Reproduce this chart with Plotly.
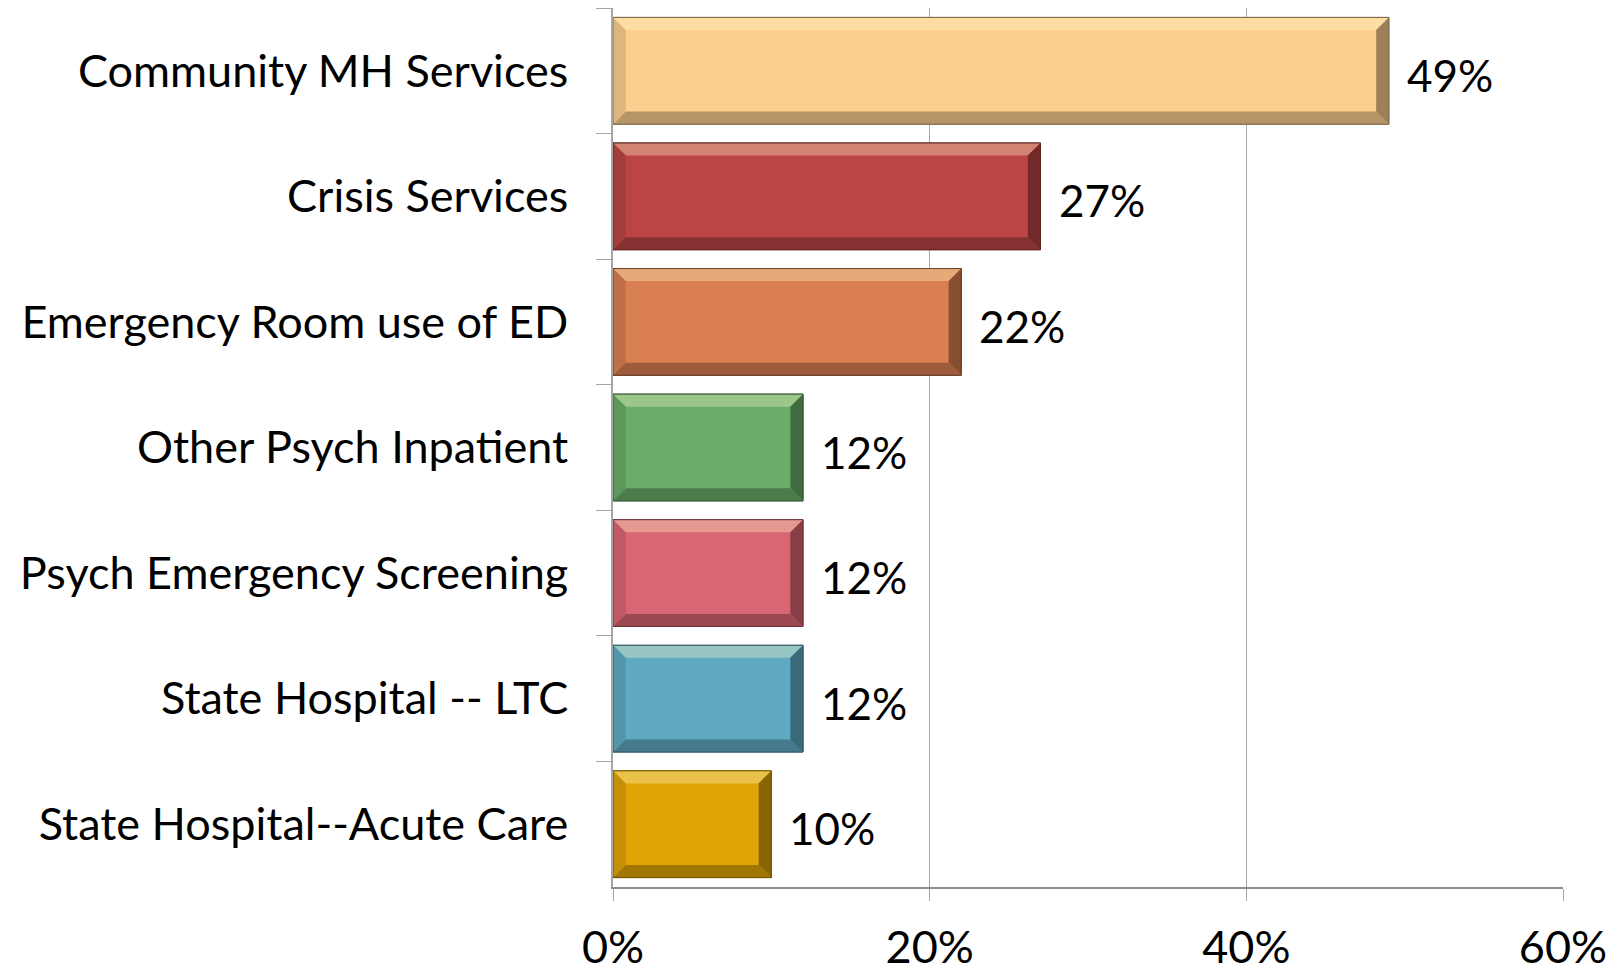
import plotly.graph_objects as go

categories = [
    "Community MH Services",
    "Crisis Services",
    "Emergency Room use of ED",
    "Other Psych Inpatient",
    "Psych Emergency Screening",
    "State Hospital -- LTC",
    "State Hospital--Acute Care",
]
values = [49, 27, 22, 12, 12, 12, 10]
colors = ["#FDCF8F", "#BB4545", "#DA7F51", "#69AD69", "#D96673", "#5FAAC2", "#E0A406"]
x_ticks = [0, 20, 40, 60]

FONT = "Lato"
BAR_W = 0.85


def hex2rgb(h):
    h = h.lstrip("#")
    return tuple(int(h[i:i + 2], 16) for i in (0, 2, 4))


def mix(h, other, t):
    r, g, b = hex2rgb(h)
    o = other
    return "rgb(%d,%d,%d)" % (r + (o[0] - r) * t, g + (o[1] - g) * t, b + (o[2] - b) * t)


fig = go.Figure()
fig.add_trace(go.Bar(
    y=categories, x=values, orientation="h",
    marker=dict(color=colors,
                line=dict(color=[mix(c, (0, 0, 0), 0.45) for c in colors], width=1)),
    width=BAR_W, hoverinfo="skip",
))

# bevel shapes (computed from data)
bx = 0.8   # bevel in x data units
by = 0.1   # bevel in category units
shapes = []


def path(pts):
    return "M " + " L ".join("%f,%f" % p for p in pts) + " Z"


for i, (v, c) in enumerate(zip(values, colors)):
    y0, y1 = i - BAR_W / 2, i + BAR_W / 2  # y0 top (reversed axis)
    x0, x1 = 0, v
    # top (highlight)
    shapes.append(dict(type="path", xref="x", yref="y", layer="above", line=dict(width=0),
                       fillcolor=mix(c, (255, 250, 200), 0.35),
                       path=path([(x0, y0), (x1, y0), (x1 - bx, y0 + by), (x0 + bx, y0 + by)])))
    # bottom (shadow)
    shapes.append(dict(type="path", xref="x", yref="y", layer="above", line=dict(width=0),
                       fillcolor=mix(c, (0, 0, 0), 0.28),
                       path=path([(x0, y1), (x1, y1), (x1 - bx, y1 - by), (x0 + bx, y1 - by)])))
    # right (dark)
    shapes.append(dict(type="path", xref="x", yref="y", layer="above", line=dict(width=0),
                       fillcolor=mix(c, (0, 0, 0), 0.38),
                       path=path([(x1, y0), (x1, y1), (x1 - bx, y1 - by), (x1 - bx, y0 + by)])))
    # left (slightly dark)
    shapes.append(dict(type="path", xref="x", yref="y", layer="above", line=dict(width=0),
                       fillcolor=mix(c, (0, 0, 0), 0.12),
                       path=path([(x0, y0), (x0, y1), (x0 + bx, y1 - by), (x0 + bx, y0 + by)])))
    # outline
    shapes.append(dict(type="rect", xref="x", yref="y", layer="above",
                       line=dict(width=1, color=mix(c, (0, 0, 0), 0.5)),
                       x0=x0, x1=x1, y0=y0, y1=y1))

annotations = []
for cat, v in zip(categories, values):
    annotations.append(dict(x=v, y=cat, xref="x", yref="y", text="%d%%" % v,
                            showarrow=False, xanchor="left", yanchor="middle",
                            xshift=16, yshift=-4,
                            font=dict(family=FONT, size=44, color="#000000")))

fig.update_layout(
    width=1624, height=972,
    margin=dict(l=613, r=61, t=8, b=85),
    paper_bgcolor="white", plot_bgcolor="white",
    showlegend=False, bargap=0.15,
    shapes=shapes, annotations=annotations,
    font=dict(family=FONT, color="#000000"),
)
fig.update_xaxes(
    range=[0, 60], tickvals=x_ticks, ticktext=["%d%%" % t for t in x_ticks],
    showgrid=True, gridcolor="#A6A6A6", gridwidth=1,
    zeroline=False, showline=True, linecolor="#8C8C8C", linewidth=1.5,
    ticks="outside", ticklen=12, tickcolor="#A6A6A6",
    tickfont=dict(family=FONT, size=45, color="#000000"),
    ticklabelstandoff=8, fixedrange=True, automargin=False,
)
fig.update_yaxes(
    type="category", categoryorder="array", categoryarray=categories,
    autorange="reversed", tickson="boundaries",
    showline=True, linecolor="#A6A6A6", linewidth=1.5,
    ticks="outside", ticklen=15, tickcolor="#A6A6A6",
    showgrid=False, tickfont=dict(family=FONT, size=45, color="#000000"),
    ticklabelstandoff=34, fixedrange=True, automargin=False,
)

fig.write_html("out.html", config={"displayModeBar": False},
               post_script="document.body.style.margin='0';document.body.style.overflow='hidden';")
